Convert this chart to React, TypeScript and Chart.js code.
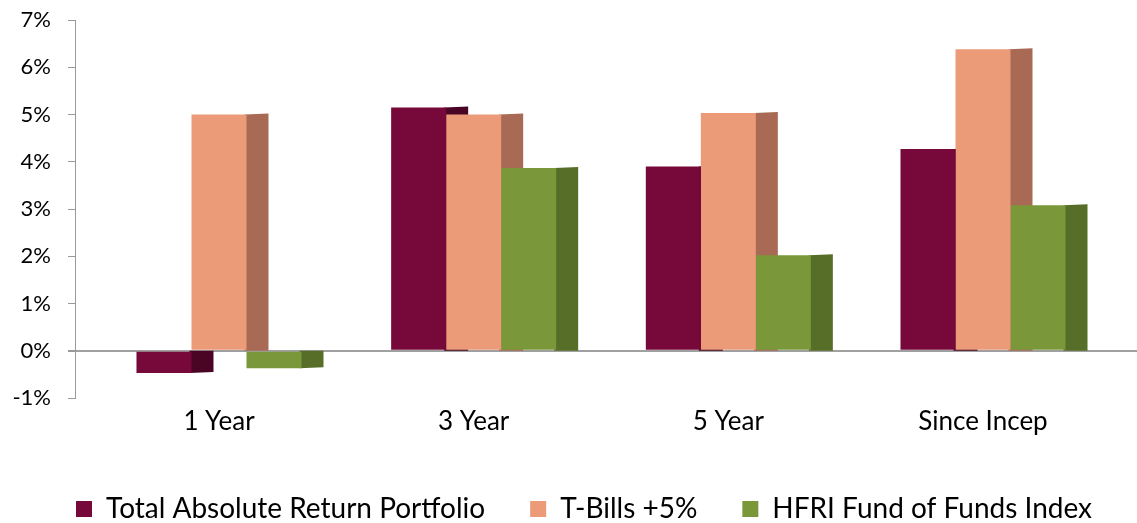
import React, { useEffect, useRef } from 'react';
import { Chart, registerables } from 'chart.js';

Chart.register(...registerables);

const categories = ['1 Year', '3 Year', '5 Year', 'Since Incep'];
const seriesNames = ['Total Absolute Return Portfolio', 'T-Bills +5%', 'HFRI Fund of Funds Index'];
const tarpValues = [-0.47, 5.15, 3.9, 4.27];
const tbillsValues = [5.0, 5.0, 5.03, 6.38];
const hfriValues = [-0.37, 3.87, 2.02, 3.08];
const yTickValues = [-1, 0, 1, 2, 3, 4, 5, 6, 7];

const frontColors = ['#76083a', '#ec9b78', '#7a983a'];
const sideColors = ['#4a0424', '#a86a55', '#566e28'];
const FONT = 'Lato, "Open Sans", sans-serif';

const sidePlugin = {
  id: 'barSides',
  beforeDatasetsDraw(chart: any) {
    const ctx = chart.ctx;
    const base = chart.scales.y.getPixelForValue(0);
    const depth = 22;
    ctx.save();
    chart.data.datasets.forEach((_ds: any, i: number) => {
      const meta = chart.getDatasetMeta(i);
      meta.data.forEach((bar: any) => {
        const { x, y, width } = bar.getProps(['x', 'y', 'width'], true);
        const xr = x + width / 2;
        ctx.fillStyle = sideColors[i];
        ctx.beginPath();
        ctx.moveTo(xr - 2, y);
        ctx.lineTo(xr + depth, y - 1);
        ctx.lineTo(xr + depth, base);
        ctx.lineTo(xr - 2, base);
        ctx.closePath();
        ctx.fill();
      });
    });
    ctx.restore();
  },
};

export default function App() {
  const ref = useRef<HTMLCanvasElement | null>(null);
  useEffect(() => {
    if (!ref.current) return;
    const series = [tarpValues, tbillsValues, hfriValues];
    const chart = new Chart(ref.current, {
      type: 'bar',
      data: {
        datasets: series.map((vals, i) => ({
          label: seriesNames[i],
          data: vals.map((v, j) => ({ x: j, y: v })),
          backgroundColor: frontColors[i],
          borderWidth: 0,
          categoryPercentage: 0.648,
          barPercentage: 1,
        })),
      },
      options: {
        responsive: false,
        animation: false,
        layout: { padding: { left: 0, right: 0, top: 20, bottom: -10 } },
        plugins: {
          tooltip: { enabled: false },
          legend: {
            position: 'bottom',
            align: 'end',
            labels: {
              boxWidth: 16,
              boxHeight: 16,
              padding: 45,
              color: '#000',
              font: { family: FONT, size: 28 },
            },
          },
        },
        scales: {
          x: {
            type: 'linear',
            offset: false,
            min: -0.5654,
            max: 3.6047,
            grid: { display: false, drawTicks: false, offset: false },
            border: { display: false },
            afterFit: (scale: any) => { scale.height = 52; },
            ticks: {
              stepSize: 1,
              includeBounds: false,
              maxRotation: 0,
              autoSkip: false,
              padding: 8,
              color: '#000',
              font: { family: FONT, size: 26 },
              callback: (v: any) => categories[v] ?? '',
            },
          },
          y: {
            min: yTickValues[0],
            max: yTickValues[yTickValues.length - 1],
            afterFit: (scale: any) => {
              scale.width = 75;
              scale.paddingTop = 0;
              scale.paddingBottom = 0;
            },
            border: { display: true, color: '#999', width: 1 },
            grid: {
              drawOnChartArea: true,
              color: (c: any) => (c.tick && c.tick.value === 0 ? '#a0a0a0' : 'rgba(0,0,0,0)'),
              lineWidth: (c: any) => (c.tick && c.tick.value === 0 ? 2 : 1),
              tickColor: '#999',
              tickLength: 7,
            },
            ticks: {
              stepSize: 1,
              padding: 17,
              color: '#000',
              font: { family: FONT, size: 22 },
              callback: (v: any) => String(v) + '%',
            },
          },
        },
      },
      plugins: [sidePlugin],
    } as any);
    return () => chart.destroy();
  }, []);
  return (
    <canvas
      ref={ref}
      width={1137}
      height={523}
      style={{ position: 'absolute', left: 0, top: 0 }}
    />
  );
}
